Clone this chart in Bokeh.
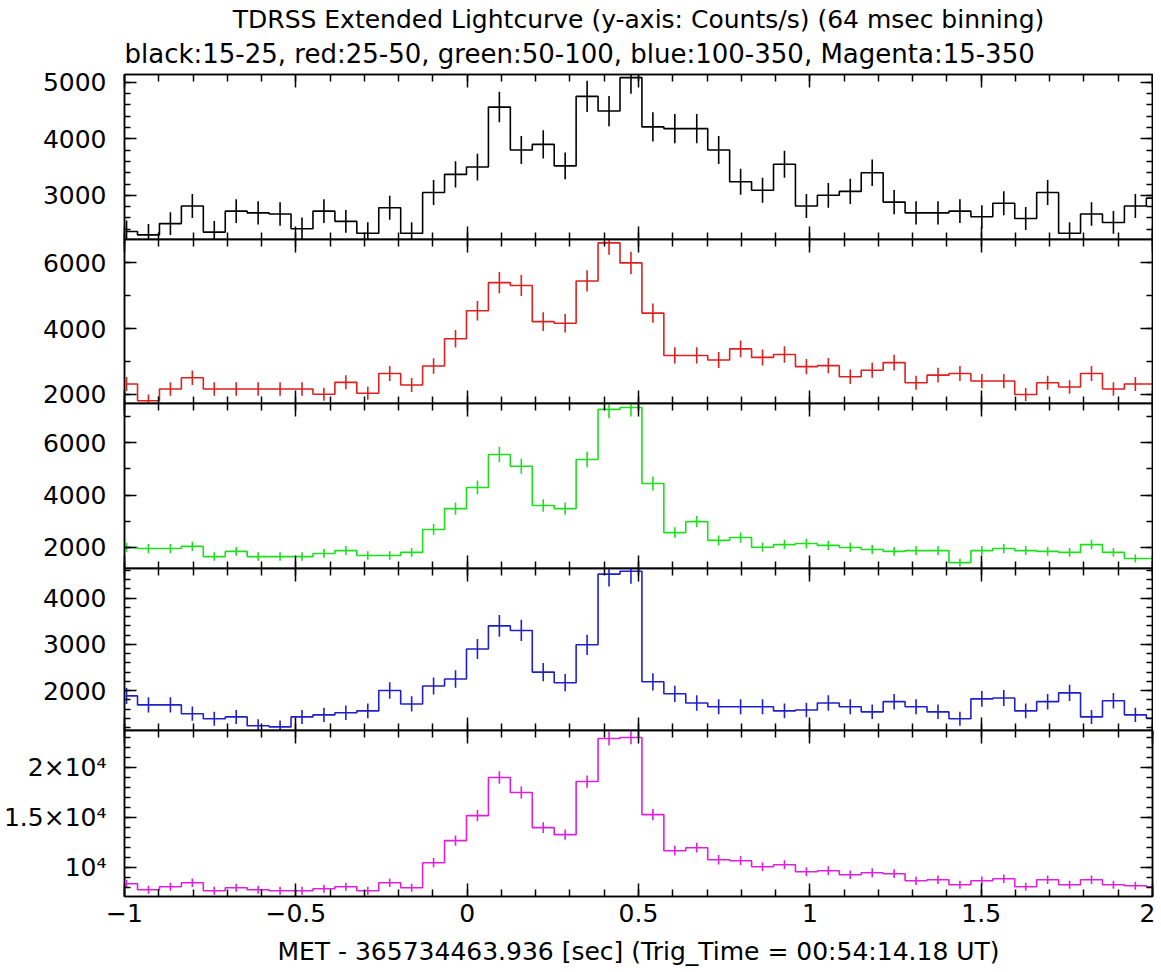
from bokeh.plotting import figure
from bokeh.layouts import column
from bokeh.models import (Range1d, LinearAxis, SingleIntervalTicker, Title,
                          CustomLabelingPolicy)
from bokeh.embed import file_html
from bokeh.resources import INLINE

# ---- time bins (64 msec binning) ----
t_start = -0.994
bin_width = 0.064
n_bins = 48
time = [round(t_start + bin_width * k, 3) for k in range(n_bins)]

# ---- count rates (counts/s) ----
black = [2360, 2300, 2500, 2810, 2350, 2720, 2690, 2670, 2410, 2720, 2540, 2330,
         2780, 2330, 3050, 3370, 3500, 4560, 3800, 3900, 3520, 4750, 4490, 5080,
         4210, 4180, 4180, 3800, 3240, 3090, 3550, 2810, 3000, 3070, 3400, 2880,
         2690, 2690, 2720, 2620, 2860, 2590, 3050, 2330, 2670, 2520, 2810, 2950]
black_err = [194, 192, 200, 212, 194, 209, 207, 207, 196, 209, 202, 193,
             211, 193, 221, 232, 237, 270, 247, 250, 237, 276, 268, 285,
             260, 259, 259, 247, 228, 222, 238, 212, 219, 222, 233, 215,
             207, 207, 209, 205, 214, 204, 221, 193, 207, 201, 212, 217]

red = [2310, 1800, 2160, 2500, 2160, 2160, 2160, 2160, 2160, 2000, 2360, 2030,
       2630, 2280, 2860, 3690, 4540, 5400, 5310, 4210, 4160, 5450, 6610, 6000,
       4470, 3180, 3180, 3040, 3380, 3120, 3210, 2840, 2870, 2530, 2730, 2960,
       2350, 2580, 2630, 2400, 2400, 1990, 2350, 2220, 2630, 2160, 2310, 2310]
red_err = [211, 187, 205, 220, 205, 205, 205, 205, 205, 197, 213, 198,
           226, 210, 235, 267, 297, 323, 320, 286, 284, 325, 358, 341,
           294, 249, 249, 243, 256, 245, 250, 234, 235, 221, 230, 240,
           213, 223, 226, 216, 216, 196, 213, 207, 226, 205, 211, 211]

green = [1990, 1950, 1950, 2030, 1640, 1840, 1640, 1640, 1640, 1760, 1870, 1680,
         1680, 1800, 2680, 3480, 4290, 5550, 5100, 3600, 3480, 5360, 7280, 7350,
         4440, 2560, 2980, 2260, 2370, 2000, 2100, 2140, 2070, 1990, 1910, 1840,
         1870, 1870, 1410, 1870, 1950, 1870, 1840, 1800, 2100, 1800, 1570, 1570]
green_err = [178, 177, 177, 180, 162, 172, 162, 162, 162, 168, 173, 164,
             164, 170, 207, 236, 262, 298, 286, 240, 236, 293, 341, 343,
             267, 202, 218, 190, 195, 179, 183, 185, 182, 178, 175, 172,
             173, 173, 150, 173, 177, 173, 172, 170, 183, 170, 158, 158]

blue = [1885, 1690, 1690, 1500, 1390, 1430, 1240, 1215, 1430, 1475, 1520, 1560,
        2000, 1710, 2100, 2250, 2900, 3400, 3300, 2400, 2170, 2990, 4520, 4580,
        2190, 1930, 1730, 1650, 1650, 1650, 1560, 1580, 1730, 1650, 1540, 1760,
        1650, 1540, 1390, 1820, 1840, 1560, 1760, 1950, 1430, 1780, 1475, 1400]
blue_err = [174, 164, 164, 155, 149, 151, 141, 139, 151, 154, 156, 158,
            179, 165, 183, 190, 215, 233, 230, 196, 186, 219, 269, 271,
            187, 176, 166, 162, 162, 162, 158, 159, 166, 162, 157, 168,
            162, 157, 149, 171, 172, 158, 168, 177, 151, 169, 154, 150]

magenta = [8400, 7800, 8100, 8500, 7700, 8000, 7800, 7700, 7700, 7900, 8100, 7700,
           8500, 8000, 10500, 12700, 15200, 19000, 17500, 14000, 13300, 18600, 22900, 23000,
           15300, 11700, 12000, 10800, 10700, 10100, 10300, 9600, 9700, 9300, 9500, 9400,
           8700, 8800, 8300, 8700, 8900, 8100, 8800, 8300, 8800, 8300, 8200, 8100]
magenta_err = [412, 397, 405, 415, 395, 402, 397, 395, 395, 400, 405, 395,
               415, 402, 461, 507, 555, 620, 595, 532, 519, 614, 681, 682,
               557, 487, 493, 468, 465, 452, 457, 441, 443, 434, 439, 436,
               420, 422, 410, 420, 425, 405, 422, 410, 422, 410, 407, 405]

magenta_labels = {10000: "10\u2074", 15000: "1.5\u00d710\u2074", 20000: "2\u00d710\u2074"}

title_text = "TDRSS Extended Lightcurve (y-axis: Counts/s) (64 msec binning)"
subtitle_text = "black:15-25, red:25-50, green:50-100, blue:100-350, Magenta:15-350"
xlabel_text = "MET - 365734463.936 [sec] (Trig_Time = 00:54:14.18 UT)"

FONT = "DejaVu Sans"
FS = "25px"
OV = 12  # overlap border between stacked panels

panels = [
    dict(y=black, e=black_err, color="#000000", lo=2219, hi=5136, step=1000, minor=5, h=165),
    dict(y=red, e=red_err, color="#dd2020", lo=1716, hi=6713, step=2000, minor=2, h=164),
    dict(y=green, e=green_err, color="#20dd20", lo=1184, hi=7506, step=2000, minor=2, h=165),
    dict(y=blue, e=blue_err, color="#2020c8", lo=1136, hi=4641, step=1000, minor=5, h=162),
    dict(y=magenta, e=magenta_err, color="#dd20dd", lo=7129, hi=23693, step=5000, minor=5, h=166),
]


def style_axis(ax, minor_len=6, major_len=12):
    ax.major_tick_in = major_len
    ax.major_tick_out = 0
    ax.minor_tick_in = minor_len
    ax.minor_tick_out = 0
    ax.axis_line_color = "black"
    ax.axis_line_width = 1.5
    ax.major_tick_line_color = "black"
    ax.major_tick_line_width = 1.5
    ax.minor_tick_line_color = "black"
    ax.minor_tick_line_width = 1.5
    ax.major_label_text_font = FONT
    ax.major_label_text_font_size = FS
    ax.major_label_text_color = "black"


def hide_labels(ax):
    ax.major_label_text_font_size = "0px"
    ax.major_label_standoff = 0
    ax.major_label_policy = CustomLabelingPolicy(code="return []")


figs = []
n = len(panels)
for i, cfg in enumerate(panels):
    first = i == 0
    last = i == n - 1
    top_b = 60 if first else OV
    bot_b = 66 if last else OV
    margin = (4 if first else -OV, 0, 0 if last else -OV, 0)
    p = figure(frame_width=1028, frame_height=cfg["h"],
               x_range=Range1d(-1, 2), y_range=Range1d(cfg["lo"], cfg["hi"]),
               output_backend="svg", toolbar_location=None,
               min_border_left=122, min_border_right=3,
               min_border_top=top_b, min_border_bottom=bot_b,
               margin=margin)
    p.grid.visible = False
    p.outline_line_color = "black"
    p.outline_line_width = 1.5
    p.background_fill_color = "white"
    p.border_fill_color = "white"
    p.border_fill_alpha = 0.0

    xt = SingleIntervalTicker(interval=0.5, num_minor_ticks=5)
    yt = SingleIntervalTicker(interval=cfg["step"], num_minor_ticks=cfg["minor"])

    # bottom x axis
    xa = p.xaxis[0]
    xa.ticker = xt
    style_axis(xa, 7, 13)
    if last:
        xa.major_label_standoff = 7
        xa.axis_label = xlabel_text
        xa.axis_label_text_font = FONT
        xa.axis_label_text_font_size = FS
        xa.axis_label_text_font_style = "normal"
        xa.axis_label_text_color = "black"
        xa.axis_label_standoff = 12
    else:
        hide_labels(xa)

    # left y axis
    ya = p.yaxis[0]
    ya.ticker = yt
    style_axis(ya)
    ya.major_label_standoff = 18
    ya.major_label_orientation = "horizontal"
    if last:
        ya.major_label_overrides = magenta_labels

    # top and right axes (ticks only)
    top = LinearAxis(ticker=SingleIntervalTicker(interval=0.5, num_minor_ticks=5))
    style_axis(top, 7, 13)
    hide_labels(top)
    p.add_layout(top, "above")
    right = LinearAxis(ticker=SingleIntervalTicker(interval=cfg["step"], num_minor_ticks=cfg["minor"]))
    style_axis(right)
    hide_labels(right)
    p.add_layout(right, "right")

    y = cfg["y"]
    e = cfg["e"]
    lo_err = [v - d for v, d in zip(y, e)]
    hi_err = [v + d for v, d in zip(y, e)]
    p.step(time, y, mode="center", line_color=cfg["color"], line_width=1.6)
    p.segment(time, lo_err, time, hi_err, line_color=cfg["color"], line_width=1.6)

    if first:
        t2 = Title(text=subtitle_text, align="left", text_font=FONT, text_font_size="26px",
                   text_font_style="normal", text_color="black", offset=0, standoff=11)
        t1 = Title(text=title_text, align="center", text_font=FONT, text_font_size=FS,
                   text_font_style="normal", text_color="black", standoff=-4)
        p.add_layout(t2, "above")
        p.add_layout(t1, "above")
    figs.append(p)

layout = column(*figs, spacing=0)
open("out.html", "w").write(file_html(layout, INLINE))
